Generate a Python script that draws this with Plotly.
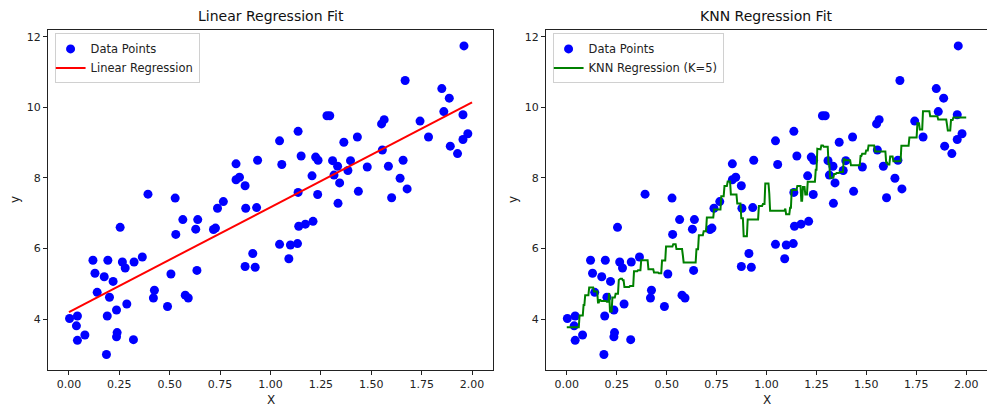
import numpy as np
import plotly.graph_objects as go

# ---- data ----
x_vals = [0.003, 0.042, 0.037, 0.042, 0.079, 0.119, 0.129, 0.140, 0.175, 0.193,
          0.190, 0.186, 0.201, 0.219, 0.236, 0.239, 0.236, 0.254, 0.265, 0.279,
          0.287, 0.323, 0.320, 0.364, 0.392, 0.424, 0.419, 0.489, 0.506, 0.527,
          0.530, 0.565, 0.577, 0.592, 0.629, 0.639, 0.635, 0.717, 0.727, 0.737,
          0.766, 0.829, 0.846, 0.874, 0.877, 0.931, 0.912, 0.874, 0.924,
          0.936, 0.829, 1.045, 1.056, 1.045, 1.091, 1.099, 1.134, 1.137, 1.137,
          1.140, 1.173, 1.152, 1.211, 1.206, 1.224, 1.236, 1.234, 1.280, 1.294,
          1.308, 1.333, 1.315, 1.343, 1.335, 1.364, 1.384, 1.397, 1.431, 1.436,
          1.480, 1.551, 1.564, 1.555, 1.585, 1.601, 1.658, 1.643, 1.678, 1.668,
          1.742, 1.784, 1.850, 1.887, 1.860, 1.955, 1.979, 1.955, 1.892, 1.928,
          1.960]
y_vals = [4.02, 4.09, 3.81, 3.40, 3.55, 5.67, 5.30, 4.76, 5.20, 5.67,
          4.09, 3.00, 4.62, 5.07, 4.26, 3.62, 3.50, 6.60, 5.62, 5.45,
          4.43, 5.62, 3.42, 5.76, 7.54, 4.82, 4.60, 4.36, 5.28, 7.43,
          6.40, 6.82, 4.68, 4.60, 6.55, 6.82, 5.38, 6.54, 6.58, 7.14,
          7.33, 7.95, 8.02, 7.78, 7.14, 7.16, 5.86, 5.49, 5.47,
          8.50, 8.40, 9.05, 8.38, 6.12, 5.71, 6.10, 6.14, 9.32, 7.59,
          6.63, 6.69, 8.62, 6.77, 8.06, 8.59, 8.50, 7.53, 9.76, 9.76,
          8.49, 8.33, 8.08, 7.86, 7.28, 9.01, 8.21, 8.49, 9.16, 7.62,
          8.31, 9.53, 9.65, 8.79, 8.33, 7.44, 8.50, 7.99, 7.69, 10.76,
          9.61, 9.16, 10.53, 10.26, 9.88, 9.79, 9.25, 9.09, 8.90, 8.69,
          11.74]
x_ticks = [0.0, 0.25, 0.5, 0.75, 1.0, 1.25, 1.5, 1.75, 2.0]
y_ticks = [4, 6, 8, 10, 12]
knn_k = 5
titles = ["Linear Regression Fit", "KNN Regression Fit"]

# ---- models computed from the data ----
X = np.array(x_vals)
Y = np.array(y_vals)
slope, intercept = np.polyfit(X, Y, 1)
x_lin = np.array([0.0, 2.0])
y_lin = intercept + slope * x_lin

x_grid = np.linspace(0.0, 2.0, 500)
d = np.abs(x_grid[:, None] - X[None, :])
nn = np.argsort(d, axis=1, kind="stable")[:, :knn_k]
y_knn = Y[nn].mean(axis=1)

font = "DejaVu Sans"
fig = go.Figure()

fig.add_trace(go.Scatter(x=X, y=Y, mode="markers", name="Data Points",
                         marker=dict(color="blue", size=9), xaxis="x", yaxis="y",
                         legend="legend"))
fig.add_trace(go.Scatter(x=x_lin, y=y_lin, mode="lines", name="Linear Regression",
                         line=dict(color="red", width=2), xaxis="x", yaxis="y",
                         legend="legend"))
fig.add_trace(go.Scatter(x=X, y=Y, mode="markers", name="Data Points",
                         marker=dict(color="blue", size=9), xaxis="x2", yaxis="y2",
                         legend="legend2"))
fig.add_trace(go.Scatter(x=x_grid, y=y_knn, mode="lines", name=f"KNN Regression (K={knn_k})",
                         line=dict(color="green", width=2), xaxis="x2", yaxis="y2",
                         legend="legend2"))

L = 48
W = 987
plot_w = W - L
d1 = [0.0, (493 - L) / plot_w]
d2 = [(546 - L) / plot_w, 1.0]

ax_common = dict(showline=True, mirror=True, linecolor="#222", linewidth=1,
                 ticks="outside", ticklen=4, tickcolor="#222", showgrid=False,
                 zeroline=False, automargin=False,
                 tickfont=dict(family=font, size=11, color="#222"))

leg_common = dict(y=0.99, xanchor="left", yanchor="top",
                  bordercolor="#d0d0d0", borderwidth=1, bgcolor="rgba(255,255,255,0.8)",
                  font=dict(family=font, size=11.5, color="#222"), itemwidth=30,
                  tracegroupgap=0, indentation=-5)

fig.update_layout(
    width=W, height=408,
    margin=dict(l=L, r=0, t=30, b=38),
    plot_bgcolor="white", paper_bgcolor="white",
    font=dict(family=font, color="#222"),
    xaxis=dict(domain=d1, range=[-0.104, 2.104], tickvals=x_ticks, tickformat=".2f", **ax_common),
    yaxis=dict(range=[2.56, 12.19], tickvals=y_ticks, **ax_common),
    xaxis2=dict(domain=d2, range=[-0.104, 2.104], tickvals=x_ticks, tickformat=".2f",
                anchor="y2", **ax_common),
    yaxis2=dict(range=[2.56, 12.19], tickvals=y_ticks, anchor="x2", **ax_common),
    legend=dict(x=0.007, **leg_common),
    legend2=dict(x=d2[0] + 0.007, **leg_common),
    showlegend=True,
)

ann = []
for dom, t in zip([d1, d2], titles):
    cx = (dom[0] + dom[1]) / 2
    ann.append(dict(text=t, x=cx, y=1.0, xref="paper", yref="paper", yshift=14,
                    showarrow=False, xanchor="center", yanchor="middle",
                    font=dict(family=font, size=14, color="#111")))
    ann.append(dict(text="X", x=cx, y=0, xref="paper", yref="paper", yshift=-30,
                    showarrow=False, xanchor="center", yanchor="middle",
                    font=dict(family=font, size=12, color="#222")))
    ann.append(dict(text="y", x=dom[0], y=0.5, xref="paper", yref="paper", xshift=-33,
                    showarrow=False, xanchor="center", yanchor="middle", textangle=-90,
                    font=dict(family=font, size=12, color="#222")))
fig.update_layout(annotations=ann)

fig.write_html("out.html", config={"displayModeBar": False},
               post_script="document.body.style.margin='0';document.body.style.overflow='hidden';")
